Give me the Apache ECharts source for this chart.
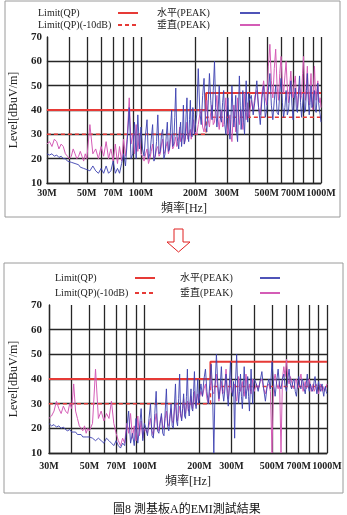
<!DOCTYPE html>
<html><head><meta charset="utf-8">
<script src="https://cdn.jsdelivr.net/npm/echarts@6/dist/echarts.min.js"></script>
<style>html,body{margin:0;padding:0;background:#fff}#c{width:347px;height:515px}</style>
</head><body><div id="c"></div>
<script>
// Frequencies (MHz), shared by all measured traces
const freq = [30,31,32,33,34,35,36,37,38,39,40,41,42,43,44,45,46,47,48,49,50,
  52,54,56,58,60,62,64,66,68,70,72,74,76,78,80,82,84,86,88,90,92,94,96,98,100,
  102,104,106,108,110,112,114,116,118,120,122,124,126,128,130,132,134,136,138,140,142,144,146,148,150,
  152,154,156,158,160,162,164,166,168,170,172,174,176,178,180,182,184,186,188,190,192,194,196,198,200,
  204,208,212,216,220,224,228,232,236,240,244,248,252,256,260,264,268,272,276,280,284,288,292,296,300,
  304,308,312,316,320,324,328,332,336,340,344,348,352,356,360,364,368,372,376,380,384,388,392,396,400,
  410,420,430,440,450,460,470,480,490,500,510,520,530,540,550,560,570,580,590,600,
  610,620,630,640,650,660,670,680,690,700,710,720,730,740,750,760,770,780,790,800,
  810,820,830,840,850,860,870,880,890,900,910,920,930,940,950,960,970,980,990,1000];

// Chart 1 (before): horizontal / vertical peak levels, dBuV/m
const h1 = [22,21.5,22,21,21.5,20.5,21,20,20,19,19.5,18.5,18.5,18,17.5,17.5,16.5,17,16,16.5,15.5,
  15,17,15,14,16,14,17,14,15,19,14,16,14,18,22,17,28,41,20,22,35,20,38,24,33,
  24,21,30,36,20,22,28,34,19,21,27,38,22,23,30,32,20,22,29,35,23,24,33,40,25,
  26,37,49,30,27,24,31,35,25,30,42,26,28,38,45,30,27,36,44,31,29,41,38,30,33,
  38,57,40,34,46,53,35,31,42,55,44,36,48,60,41,33,39,50,37,35,43,48,34,30,38,
  45,33,28,36,50,40,33,38,46,31,27,40,54,42,32,37,48,35,30,41,52,39,35,47,44,
  46,38,44,52,41,34,45,50,37,40,48,55,42,36,44,50,39,38,47,53,
  43,37,41,48,38,40,46,52,42,36,44,49,40,39,47,54,43,37,42,47,
  39,40,48,55,44,38,43,50,41,42,46,48,40,39,45,51,43,40,38,35];
const v1 = [26,27,25,28,27,24,26,25,22,21,20,21,24,22,20,21,23,21,19,22,20,
  34,22,24,20,25,21,27,20,24,19,26,18,25,19,28,21,30,45,26,30,22,34,23,30,22,
  21,19,22,24,18,20,23,26,20,21,24,25,21,22,26,28,22,23,25,27,22,24,28,30,24,
  25,27,29,25,26,29,33,27,27,29,30,26,28,31,35,28,29,31,32,28,30,34,36,30,31,
  30,34,38,40,33,31,37,44,36,33,39,42,34,35,41,46,36,32,37,40,33,34,40,45,35,
  30,34,38,30,27,35,42,36,31,38,45,37,34,39,40,35,32,41,47,39,36,40,43,37,38,
  44,40,46,48,41,38,47,52,45,42,58,67,52,45,57,65,50,44,55,62,
  51,47,54,60,49,43,50,56,47,45,51,54,46,41,47,50,44,46,55,62,
  50,44,51,58,47,42,49,55,46,40,50,58,48,44,49,52,46,43,45,41];

// Chart 2 (after)
const h2 = [22,21,21.5,20.5,21,20,20.5,19.5,19,19.5,18.5,18,18.5,17.5,17,17.5,16.5,17,16.5,16,16.5,
  16,15,16,15,14,16,15,14,13,15,13,12,14,13,20,27,14,18,13,24,14,20,28,15,22,
  20,17,24,30,17,16,26,35,19,18,22,26,18,17,27,36,21,19,24,30,21,20,29,38,23,
  21,32,42,26,23,28,34,25,24,33,44,28,25,31,36,28,27,35,43,31,28,34,40,30,30,
  38,33,40,44,35,30,38,46,36,10,38,50,39,32,37,45,35,31,36,42,34,29,38,47,37,
  33,39,16,40,50,38,30,35,42,33,28,36,45,37,32,36,41,33,27,35,44,36,30,37,40,
  38,35,39,43,36,31,37,40,36,47,38,33,39,44,37,36,40,42,37,35,
  40,44,38,36,39,40,35,33,38,41,37,36,40,39,36,34,38,42,37,35,
  38,38,35,36,39,41,37,34,37,39,36,35,37,38,35,33,36,37,35,34];
const v2 = [24,25,27,31,28,26,29,27,26,30,28,38,27,24,21,20,19,21,18,20,19,
  22,44,24,27,23,26,24,31,22,18,15,13,16,14,22,18,26,16,21,15,25,17,23,16,20,
  20,18,21,24,19,17,22,26,21,19,23,25,21,20,24,27,22,21,25,28,23,22,27,30,25,
  23,26,29,25,24,28,32,27,26,29,31,27,27,30,33,29,28,32,35,30,29,32,34,31,31,
  35,33,36,38,32,30,35,40,35,34,38,42,36,31,35,39,34,35,38,44,37,32,36,40,35,
  34,36,38,33,31,36,41,37,35,37,39,35,33,37,42,38,36,35,38,36,34,37,40,36,35,
  38,36,39,40,36,34,37,38,35,10,39,42,38,36,39,10,40,45,41,48,
  40,38,41,41,37,36,39,40,36,37,40,42,38,35,37,39,36,37,39,40,
  37,35,36,38,35,36,38,37,35,34,37,38,36,35,37,37,35,36,37,38];

// Limits
const limitFreq = [30,230,230,1000];
const limitQP = [40,40,47,47];
const limitQP10 = [30,30,37,37];

// Axis ticks
const xGridTicks = [30,40,50,60,70,80,90,100,200,300,400,500,600,700,800,900,1000];
const xLabelTicks = [30,50,70,100,200,300,500,700,1000];
const yGridTicks = [10,20,30,40,50,60];
const yLabelTicks = [10,20,30,40,50,60,70];

const nameLimit = 'Limit(QP)', nameLimit10 = 'Limit(QP)(-10dB)', nameH = '水平(PEAK)', nameV = '垂直(PEAK)';
const RED = '#e63a36', BLUE = '#3c40b0', PINK = '#d45cb6', GRID = '#262626';
const SERIF = '"Liberation Serif", "Noto Sans CJK TC", serif';

const pairs = (xs, ys) => xs.map((x, i) => [x, ys[i]]);

function xAxis(gi, labelMargin, nameGap) {
  return {
    type: 'log', logBase: 10, gridIndex: gi, min: 30, max: 1000,
    axisLine: { show: true, onZero: false, lineStyle: { color: GRID, width: 1.3 } },
    axisTick: { show: false, customValues: xGridTicks },
    axisLabel: { customValues: xLabelTicks, formatter: v => v + 'M', fontSize: 10, fontFamily: SERIF, color: '#222', margin: labelMargin, fontWeight: 'bold' },
    splitLine: { show: true, lineStyle: { color: GRID, width: 1.3 } },
    name: '頻率[Hz]', nameLocation: 'middle', nameGap: nameGap,
    nameTextStyle: { fontSize: 12, fontFamily: SERIF, color: '#222' }
  };
}
function yAxis(gi, labelMargin, nameGap) {
  return {
    type: 'value', gridIndex: gi, min: 10, max: 70, interval: 10,
    axisLine: { show: true, lineStyle: { color: GRID, width: 1.3 } },
    axisTick: { show: false, customValues: yGridTicks },
    axisLabel: { customValues: yLabelTicks, fontSize: 11, fontFamily: SERIF, color: '#222', margin: labelMargin, fontWeight: 'bold' },
    splitLine: { show: true, lineStyle: { color: GRID, width: 1.3 } },
    name: 'Level[dBuV/m]', nameLocation: 'middle', nameGap: nameGap,
    nameTextStyle: { fontSize: 12, fontFamily: SERIF, color: '#222' }
  };
}
function seriesFor(gi, h, v) {
  const base = { type: 'line', xAxisIndex: gi, yAxisIndex: gi, symbol: 'none', silent: true, animation: false, emphasis: { disabled: true } };
  return [
    Object.assign({}, base, { name: nameLimit, data: pairs(limitFreq, limitQP), lineStyle: { color: RED, width: 2 }, itemStyle: { color: RED } }),
    Object.assign({}, base, { name: nameLimit10, data: pairs(limitFreq, limitQP10), lineStyle: { color: RED, width: 1.5, type: [4, 3] }, itemStyle: { color: RED } }),
    Object.assign({}, base, { name: nameV, data: pairs(freq, v), lineStyle: { color: PINK, width: 1 }, itemStyle: { color: PINK } }),
    Object.assign({}, base, { name: nameH, data: pairs(freq, h), lineStyle: { color: BLUE, width: 1, opacity: 0.9 }, itemStyle: { color: BLUE } })
  ];
}
function legend(left, top, gap, textW, names) {
  return {
    left: left, top: top, orient: 'vertical', padding: 0, itemGap: gap, itemWidth: 20, itemHeight: 12,
    align: 'right', selectedMode: false, data: names,
    itemStyle: { opacity: 0 },
    formatter: n => '{a|' + n + '}',
    textStyle: { rich: { a: { width: textW, align: 'left', fontSize: 10, lineHeight: 12, fontFamily: SERIF, color: '#222' } } }
  };
}

const chart = echarts.init(document.getElementById('c'), null, { renderer: 'canvas' });
chart.setOption({
  animation: false,
  backgroundColor: '#fff',
  title: { text: '圖8 測基板A的EMI測試結果', left: 108, top: 499, textStyle: { fontSize: 12, fontWeight: 'normal', fontFamily: SERIF, color: '#111' } },
  grid: [
    { left: 39, top: 37, width: 282, height: 146 },
    { left: 41, top: 305, width: 286, height: 148 }
  ],
  legend: [
    legend(38, 8, 2, 75, [nameLimit, nameLimit10]),
    legend(157, 8, 2, 78, [nameH, nameV]),
    legend(55, 273, 5, 75, [nameLimit, nameLimit10]),
    legend(180, 273, 5, 75, [nameH, nameV])
  ],
  xAxis: [xAxis(0, 5, 20), xAxis(1, 8, 23)],
  yAxis: [yAxis(0, 5, 18), yAxis(1, 7, 19)],
  series: seriesFor(0, h1, v1).concat(seriesFor(1, h2, v2)),
  graphic: [
    { type: 'rect', shape: { x: 5, y: 1, width: 335, height: 216 }, style: { fill: 'none', stroke: '#9a9a9a', lineWidth: 1 }, silent: true },
    { type: 'rect', shape: { x: 4, y: 263, width: 339, height: 230 }, style: { fill: 'none', stroke: '#9a9a9a', lineWidth: 1 }, silent: true },
    { type: 'polygon', shape: { points: [[174, 229], [183, 229], [183, 242], [190, 242], [178.5, 252], [167, 242], [174, 242]] }, style: { fill: '#fff', stroke: '#e02020', lineWidth: 1 }, silent: true }
  ]
});
</script>
</body></html>
